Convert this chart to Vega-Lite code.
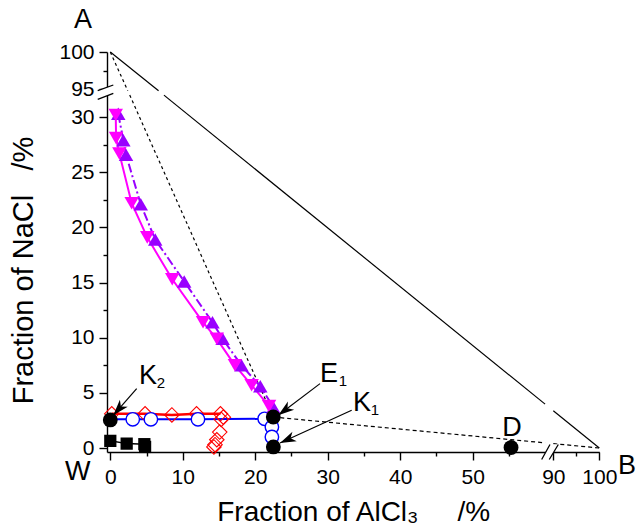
{
  "$schema": "https://vega.github.io/schema/vega-lite/v6.json",
  "width": 492,
  "height": 400,
  "autosize": {"type": "none"},
  "padding": {"left": 107, "top": 52, "right": 39, "bottom": 80},
  "config": {"view": {"stroke": null}, "font": "Liberation Sans", "text": {"font": "Liberation Sans"}},
  "datasets": {
    "ab": [{"x": 0, "y": 100, "seg": 1}, {"x": 6.66, "y": 94.8, "seg": 1}, {"x": 7.4, "y": 32, "seg": 2}, {"x": 60, "y": 3.98, "seg": 2}, {"x": 90, "y": 3.38, "seg": 3}, {"x": 100, "y": 0, "seg": 3}],
    "ae": [{"x": 0, "y": 100, "seg": 1}, {"x": 2.41, "y": 94.8, "seg": 1}, {"x": 2.68, "y": 32, "seg": 2}, {"x": 22.49, "y": 2.81, "seg": 2}],
    "eb": [{"x": 22.49, "y": 2.81, "seg": 1}, {"x": 60, "y": 0.467, "seg": 1}, {"x": 90, "y": 0.4, "seg": 2}, {"x": 100, "y": 0, "seg": 2}],
    "mag": [{"x": 0.75, "y": 30.2}, {"x": 0.8, "y": 28.1}, {"x": 1.25, "y": 26.7}, {"x": 2.95, "y": 22.2}, {"x": 5.1, "y": 19.1}, {"x": 8.55, "y": 15.3}, {"x": 12.8, "y": 11.4}, {"x": 14.7, "y": 9.9}, {"x": 17.2, "y": 7.5}, {"x": 19.5, "y": 5.7}, {"x": 21.9, "y": 3.8}],
    "pur": [{"x": 1.1, "y": 30.3}, {"x": 1.8, "y": 27.9}, {"x": 2.17, "y": 26.6}, {"x": 4.2, "y": 22.1}, {"x": 6.2, "y": 18.9}, {"x": 10.2, "y": 15.1}, {"x": 14.1, "y": 11.4}, {"x": 15.5, "y": 9.9}, {"x": 18.1, "y": 7.5}, {"x": 20.7, "y": 5.6}, {"x": 22.5, "y": 3.7}],
    "red": [{"x": 0.2, "y": 3.1, "h": true}, {"x": 4.8, "y": 3.1, "h": true}, {"x": 8.5, "y": 3.0, "h": true}, {"x": 11.9, "y": 3.1, "h": true}, {"x": 15.2, "y": 3.1, "h": true}, {"x": 15.6, "y": 2.8, "h": false}, {"x": 15.3, "y": 2.6, "h": false}, {"x": 15.1, "y": 1.45, "h": false}, {"x": 14.7, "y": 0.75, "h": false}, {"x": 14.45, "y": 0.3, "h": false}, {"x": 14.3, "y": 0.1, "h": false}],
    "blue": [{"x": 0, "y": 2.6, "m": false, "l": true}, {"x": 3.1, "y": 2.6, "m": true, "l": true}, {"x": 5.6, "y": 2.6, "m": true, "l": true}, {"x": 12.1, "y": 2.6, "m": true, "l": true}, {"x": 21.3, "y": 2.65, "m": true, "l": true}, {"x": 22.49, "y": 2.7, "m": false, "l": true}, {"x": 22.3, "y": 1.9, "m": true, "l": false}, {"x": 22.3, "y": 1.0, "m": true, "l": false}],
    "sq": [{"x": 0, "y": 0.65}, {"x": 2.26, "y": 0.4}, {"x": 4.7, "y": 0.35}, {"x": 4.8, "y": 0.1}],
    "pts": [{"x": 0, "y": 2.55, "name": "K2"}, {"x": 22.49, "y": 2.81, "name": "E1"}, {"x": 22.5, "y": 0.1, "name": "K1"}, {"x": 55.3, "y": 0.05, "name": "D"}],
    "arrows": [{"name": "K2", "x": 3.64, "y": 5.39, "x2": 0.41, "y2": 2.97}, {"name": "E1", "x": 28.94, "y": 5.84, "x2": 23.18, "y2": 2.97}, {"name": "K1", "x": 33.31, "y": 3.42, "x2": 23.42, "y2": 0.45}],
    "big": [{"x": -3.77, "y": 104.25, "t": "A"}, {"x": 106.0, "y": -1.6, "t": "B"}, {"x": -4.5, "y": -2.2, "t": "W"}, {"x": 5.2, "y": 6.51, "t": "K"}, {"x": 30.18, "y": 6.69, "t": "E"}, {"x": 34.73, "y": 4.06, "t": "K"}, {"x": 55.43, "y": 1.79, "t": "D"}],
    "small": [{"x": 7.0, "y": 5.87, "t": "2"}, {"x": 32.1, "y": 6.05, "t": "1"}, {"x": 36.52, "y": 3.42, "t": "1"}],
    "xbreak": [{"x": 77.9, "y": -0.36}],
    "ybreak": [{"x": -0.455, "y": 77.3}]
  },
  "encoding": {
    "x": {
      "field": "x", "type": "quantitative",
      "scale": {"domain": [-0.455, 60, 90, 100], "range": [0, 438.1, 446.3, 492.3], "nice": false, "zero": false},
      "axis": {
        "values": [0, 5, 10, 15, 20, 25, 30, 35, 40, 45, 50, 55, 90, 95, 100],
        "labelExpr": "datum.value % 10 === 0 ? datum.label : ''",
        "tickSize": {"condition": {"test": "datum.value % 10 !== 0", "value": 4}, "value": 8},
        "grid": false, "domainColor": "black", "domainWidth": 1.4, "tickColor": "black", "tickWidth": 1.4,
        "labelColor": "black", "labelFontSize": 21, "labelFont": "Liberation Sans", "labelPadding": 6,
        "labelOverlap": false, "labelFlush": false, "labelBound": false,
        "title": "Fraction of AlCl₃\u00a0\u00a0\u00a0\u00a0\u00a0/%", "titleFontSize": 28, "titleFont": "Liberation Sans",
        "titleFontWeight": "normal", "titleColor": "black", "titlePadding": 11
      }
    },
    "y": {
      "field": "y", "type": "quantitative",
      "scale": {"domain": [-0.36, 32, 94.8, 100], "range": [400, 43.1, 38.8, 0], "nice": false, "zero": false},
      "axis": {
        "values": [0, 2.5, 5, 7.5, 10, 12.5, 15, 17.5, 20, 22.5, 25, 27.5, 30, 95, 97.5, 100],
        "labelExpr": "datum.value % 5 === 0 ? datum.label : ''",
        "tickSize": {"condition": {"test": "datum.value % 5 !== 0", "value": 4}, "value": 8},
        "grid": false, "domainColor": "black", "domainWidth": 1.4, "tickColor": "black", "tickWidth": 1.4,
        "labelColor": "black", "labelFontSize": 21, "labelFont": "Liberation Sans", "labelPadding": 5,
        "labelOverlap": false, "labelFlush": false, "labelBound": false,
        "title": "Fraction of NaCl\u00a0\u00a0\u00a0/%", "titleFontSize": 29, "titleFont": "Liberation Sans",
        "titleFontWeight": "normal", "titleColor": "black", "titlePadding": 20, "titleY": 218
      }
    }
  },
  "layer": [
    {"data": {"name": "ab"}, "mark": {"type": "line", "color": "black", "strokeWidth": 1.2}, "encoding": {"detail": {"field": "seg"}}},
    {"data": {"name": "ae"}, "mark": {"type": "line", "color": "black", "strokeWidth": 1.2, "strokeDash": [3, 3]}, "encoding": {"detail": {"field": "seg"}}},
    {"data": {"name": "eb"}, "mark": {"type": "line", "color": "black", "strokeWidth": 1.2, "strokeDash": [4, 3]}, "encoding": {"detail": {"field": "seg"}}},
    {"data": {"name": "red"}, "transform": [{"filter": "datum.h"}], "mark": {"type": "line", "color": "#ff0000", "strokeWidth": 2.5}},
    {"data": {"name": "blue"}, "transform": [{"filter": "datum.l"}], "mark": {"type": "line", "color": "#0000ff", "strokeWidth": 2}},
    {"data": {"name": "sq"}, "mark": {"type": "line", "color": "black", "strokeWidth": 1.5}},
    {"data": {"name": "red"}, "mark": {"type": "point", "shape": "diamond", "filled": false, "color": "#ff0000", "strokeWidth": 1.1, "size": 210, "opacity": 1}},
    {"data": {"name": "blue"}, "transform": [{"filter": "datum.m"}], "mark": {"type": "point", "shape": "circle", "filled": true, "fill": "white", "stroke": "#0000ff", "strokeWidth": 1.4, "size": 180, "opacity": 1}},
    {"data": {"name": "sq"}, "mark": {"type": "point", "shape": "square", "filled": true, "color": "black", "size": 150, "opacity": 1}},
    {"data": {"name": "pur"}, "mark": {"type": "line", "color": "#9900ff", "strokeWidth": 2, "strokeDash": [9, 3, 2, 3]}},
    {"data": {"name": "mag"}, "mark": {"type": "line", "color": "#ff00ff", "strokeWidth": 2}},
    {"data": {"name": "pur"}, "mark": {"type": "point", "shape": "triangle-up", "filled": true, "color": "#9900ff", "size": 210, "opacity": 1}},
    {"data": {"name": "mag"}, "mark": {"type": "point", "shape": "triangle-down", "filled": true, "color": "#ff00ff", "size": 210, "opacity": 1}},
    {"data": {"name": "pts"}, "mark": {"type": "point", "shape": "circle", "filled": true, "color": "black", "size": 220, "opacity": 1}},
    {"data": {"name": "arrows"}, "mark": {"type": "rule", "color": "black", "strokeWidth": 1.2}, "encoding": {"x2": {"field": "x2"}, "y2": {"field": "y2"}}},
    {"data": {"name": "arrows"}, "transform": [{"filter": "datum.name === 'K2'"}], "mark": {"type": "point", "shape": "M0,0 L-0.65,2 L0,1.45 L0.65,2 Z", "filled": true, "color": "black", "size": 256, "opacity": 1, "angle": 221.2}, "encoding": {"x": {"field": "x2", "type": "quantitative"}, "y": {"field": "y2", "type": "quantitative"}}},
    {"data": {"name": "arrows"}, "transform": [{"filter": "datum.name === 'E1'"}], "mark": {"type": "point", "shape": "M0,0 L-0.65,2 L0,1.45 L0.65,2 Z", "filled": true, "color": "black", "size": 256, "opacity": 1, "angle": 232.8}, "encoding": {"x": {"field": "x2", "type": "quantitative"}, "y": {"field": "y2", "type": "quantitative"}}},
    {"data": {"name": "arrows"}, "transform": [{"filter": "datum.name === 'K1'"}], "mark": {"type": "point", "shape": "M0,0 L-0.65,2 L0,1.45 L0.65,2 Z", "filled": true, "color": "black", "size": 256, "opacity": 1, "angle": 245.5}, "encoding": {"x": {"field": "x2", "type": "quantitative"}, "y": {"field": "y2", "type": "quantitative"}}},
    {"data": {"name": "big"}, "mark": {"type": "text", "fontSize": 27, "color": "black", "align": "center", "baseline": "middle", "font": "Liberation Sans"}, "encoding": {"text": {"field": "t"}}},
    {"data": {"name": "small"}, "mark": {"type": "text", "fontSize": 15, "color": "black", "align": "center", "baseline": "middle", "font": "Liberation Sans"}, "encoding": {"text": {"field": "t"}}},
    {"data": {"name": "xbreak"}, "mark": {"type": "point", "shape": "M-1.04,0.94 L0,-0.94 L1.04,-0.94 L-0.09,0.94 Z", "filled": true, "color": "white", "size": 256, "opacity": 1}},
    {"data": {"name": "xbreak"}, "mark": {"type": "point", "shape": "M-1.04,0.94 L0,-0.94 M-0.09,0.94 L1.04,-0.94", "filled": false, "color": "black", "strokeWidth": 1.3, "size": 256, "opacity": 1}},
    {"data": {"name": "ybreak"}, "mark": {"type": "point", "shape": "M-1.16,-0.16 L0.79,-0.875 L0.79,0.16 L-1.16,0.91 Z", "filled": true, "color": "white", "size": 256, "opacity": 1}},
    {"data": {"name": "ybreak"}, "mark": {"type": "point", "shape": "M-1.16,-0.16 L0.79,-0.875 M-1.16,0.91 L0.79,0.16", "filled": false, "color": "black", "strokeWidth": 1.3, "size": 256, "opacity": 1}}
  ]
}
